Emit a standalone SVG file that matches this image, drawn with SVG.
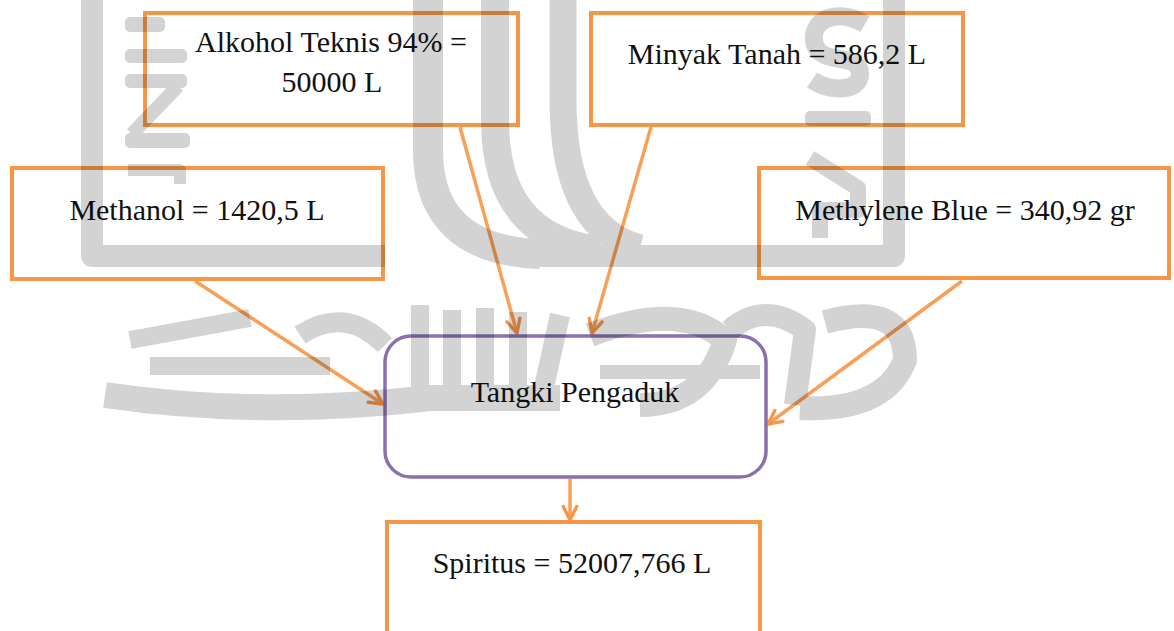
<svg xmlns="http://www.w3.org/2000/svg" width="1174" height="631" viewBox="0 0 1174 631">
  <style>
    .box { fill: none; stroke: #F79646; stroke-width: 4; }
    .tank { fill: none; stroke: #8A70AE; stroke-width: 3.5; }
    .lbl { font-family: "Liberation Serif", "Times New Roman", serif; font-size: 30px; fill: #111; text-anchor: middle; }
    .conn { fill: none; stroke: #F79646; stroke-opacity: 0.9; stroke-width: 3.5; marker-end: url(#arr); }
    .wm path, .wm rect { fill: none; stroke: #000; stroke-linejoin: round; }
  </style>
  <defs>
    <marker id="arr" viewBox="0 0 16 16" markerWidth="18" markerHeight="18" markerUnits="userSpaceOnUse" refX="14" refY="8" orient="auto">
      <path d="M2,2 L14,8 L2,14" fill="none" stroke="#F79646" stroke-width="3" stroke-linecap="round" stroke-linejoin="round"/>
    </marker>
  </defs>
  <rect width="1174" height="631" fill="#ffffff"/>

  <g id="connectors">
    <line class="conn" x1="460" y1="127" x2="517" y2="333"/>
    <line class="conn" x1="651" y1="127" x2="592" y2="333"/>
    <line class="conn" x1="195" y1="281" x2="383" y2="404"/>
    <line class="conn" x1="962" y1="281" x2="768" y2="424"/>
    <line class="conn" x1="570" y1="479" x2="570" y2="520"/>
  </g>

  <g id="alkohol">
    <rect class="box" x="145" y="13" width="373" height="112"/>
    <text class="lbl" x="331" y="52">Alkohol Teknis 94% =</text>
    <text class="lbl" x="332" y="92">50000 L</text>
  </g>
  <g id="minyak">
    <rect class="box" x="591" y="13" width="372" height="112"/>
    <text class="lbl" x="777" y="64">Minyak Tanah = 586,2 L</text>
  </g>
  <g id="methanol">
    <rect class="box" x="12" y="168" width="371" height="111"/>
    <text class="lbl" x="197" y="220">Methanol = 1420,5 L</text>
  </g>
  <g id="methylene">
    <rect class="box" x="759" y="168" width="410" height="110"/>
    <text class="lbl" x="965" y="220">Methylene Blue = 340,92 gr</text>
  </g>
  <g id="tangki">
    <rect class="tank" x="385" y="336" width="381" height="141" rx="26" ry="26"/>
    <text class="lbl" x="575" y="402">Tangki Pengaduk</text>
  </g>
  <g id="spiritus">
    <rect class="box" x="387" y="522" width="373" height="130"/>
    <text class="lbl" x="572" y="573">Spiritus = 52007,766 L</text>
  </g>

  <g id="watermark" class="wm" opacity="0.17">
    <path d="M92,-5 V256 H385" stroke-width="22" stroke-linejoin="miter"/>
    <path d="M428,-5 V150 Q428,250 540,254" stroke-width="30"/>
    <path d="M495,-5 V120 Q495,238 600,250" stroke-width="28"/>
    <path d="M563,-5 V100 Q563,228 640,248" stroke-width="27"/>
    <path d="M520,256 H894 V-5" stroke-width="22" stroke-linejoin="miter"/>
    <rect x="130" y="22" width="30" height="5" stroke-width="10"/>
    <rect x="130" y="54" width="52" height="4" stroke-width="10"/>
    <rect x="130" y="79" width="52" height="4" stroke-width="10"/>
    <path d="M178,86 L132,134" stroke-width="14"/>
    <rect x="130" y="138" width="55" height="5" stroke-width="10"/>
    <path d="M128,170 H180 V184" stroke-width="12"/>
    <path d="M865,24 C835,6 808,22 815,45 C822,66 860,52 860,74 C860,92 830,92 812,80" stroke-width="18"/>
    <rect x="810" y="116" width="56" height="5" stroke-width="10"/>
    <path d="M810,158 L858,188 L858,210 L820,210 L820,238" stroke-width="16"/>
    <path d="M105,395 Q260,418 430,398 H560" stroke-width="26"/>
    <path d="M130,340 L250,318" stroke-width="18"/>
    <path d="M150,366 H330" stroke-width="18"/>
    <path d="M300,335 Q345,305 385,345" stroke-width="20"/>
    <path d="M420,305 V400 M452,310 V400 M485,308 V400 M518,312 V400" stroke-width="18"/>
    <path d="M560,315 L540,405" stroke-width="20"/>
    <path d="M590,335 Q680,300 725,340 Q705,405 640,405" stroke-width="24"/>
    <path d="M600,372 H760" stroke-width="14"/>
    <path d="M730,330 Q765,300 805,330 L795,405" stroke-width="22"/>
    <path d="M825,322 Q905,300 905,360 Q885,412 800,408" stroke-width="24"/>
  </g>
</svg>
